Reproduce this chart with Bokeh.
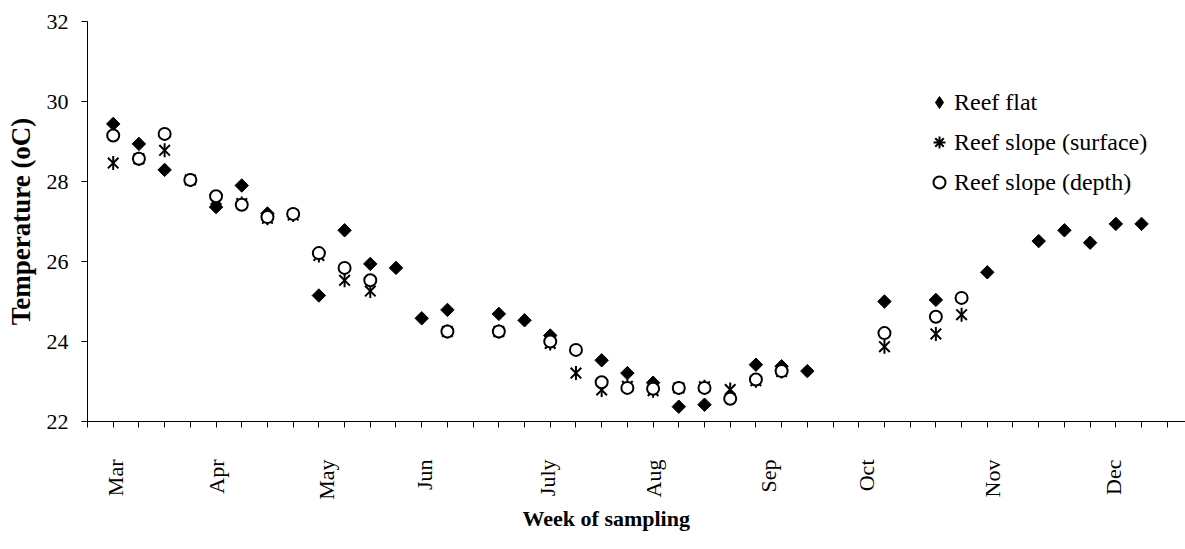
from math import pi
from bokeh.plotting import figure
from bokeh.models import FixedTicker, Legend, LegendItem, Range1d, Title
from bokeh.embed import file_html
from bokeh.resources import INLINE

nan = float("nan")

# week index of each sampling (category position on the x axis)
weeks = list(range(1, 42))

reef_flat = [29.44, 28.94, 28.29, nan, 27.36, 27.90, 27.20, nan, 25.15, 26.78,
             25.94, 25.84, 24.58, 24.79, nan, 24.69, 24.53, 24.15, nan, 23.53,
             23.21, 22.97, 22.37, 22.42, nan, 23.42, 23.38, 23.26, nan, nan,
             25.00, nan, 25.04, nan, 25.73, nan, 26.51, 26.78, 26.47, 26.94,
             26.94]

reef_slope_surface = [28.46, 28.57, 28.78, 28.04, 27.55, 27.45, 27.08, 27.16, 26.15, 25.53,
                      25.26, nan, nan, 24.25, nan, 24.25, nan, 23.95, 23.21, 22.79,
                      22.88, 22.77, 22.84, 22.87, 22.80, 23.02, 23.25, nan, nan, nan,
                      23.87, nan, 24.19, 24.67, nan, nan, nan, nan, nan, nan,
                      nan]

reef_slope_depth = [29.15, 28.57, 29.19, 28.04, 27.63, 27.42, 27.11, 27.19, 26.21, 25.84,
                    25.53, nan, nan, 24.25, nan, 24.25, nan, 24.00, 23.79, 22.98,
                    22.84, 22.82, 22.84, 22.84, 22.57, 23.05, 23.26, nan, nan, nan,
                    24.21, nan, 24.62, 25.09, nan, nan, nan, nan, nan, nan,
                    nan]

month_labels = ["Mar", "Apr", "May", "Jun", "July", "Aug", "Sep", "Oct", "Nov", "Dec"]
month_label_weeks = [1.1, 5.0, 9.3, 13.1, 17.9, 22.0, 26.5, 30.3, 35.2, 39.9]
week_ticks = list(range(0, 43))
y_ticks = [22, 24, 26, 28, 30, 32]

FONT = "Liberation Serif"

p = figure(width=1185, height=540,
           x_range=Range1d(0, 42.71), y_range=Range1d(22, 32),
           output_backend="svg", toolbar_location=None,
           min_border_left=87, min_border_right=0,
           min_border_top=21, min_border_bottom=119)
p.outline_line_color = None
p.grid.visible = False
p.background_fill_color = "white"
p.border_fill_color = "white"

# x axis
xa = p.xaxis[0]
xa.ticker = FixedTicker(ticks=month_label_weeks, minor_ticks=week_ticks)
xa.major_label_overrides = {w: m for w, m in zip(month_label_weeks, month_labels)}
xa.major_label_orientation = pi / 2
xa.major_tick_out = 0
xa.major_tick_in = 0
xa.major_tick_line_color = None
xa.minor_tick_out = 6
xa.minor_tick_in = 0
xa.minor_tick_line_color = "black"
xa.axis_line_color = "black"
xa.major_label_standoff = 32
xa.major_label_text_font = FONT
xa.major_label_text_font_size = "22px"
xa.major_label_text_color = "black"

# y axis
ya = p.yaxis[0]
ya.ticker = FixedTicker(ticks=y_ticks, minor_ticks=[])
ya.major_tick_out = 6
ya.major_tick_in = 0
ya.major_tick_line_color = "black"
ya.minor_tick_line_color = None
ya.axis_line_color = "black"
ya.major_label_standoff = 13
ya.major_label_text_font = FONT
ya.major_label_text_font_size = "22px"
ya.major_label_text_color = "black"
ya.axis_label = "Temperature (oC)"
ya.axis_label_text_font = FONT
ya.axis_label_text_font_size = "27px"
ya.axis_label_text_font_style = "bold"
ya.axis_label_text_color = "black"
ya.axis_label_standoff = 8

p.add_layout(Title(text="Week  of sampling", align="left", offset=435,
                   text_font=FONT, text_font_size="22px", text_font_style="bold",
                   text_color="black", standoff=2), "below")

# data marks (drawn in series order: reef flat, surface, depth)
r_flat = p.scatter(weeks, reef_flat, marker="square", size=9.5, angle=pi / 4,
                   fill_color="black", line_color="black")
r_sx = p.scatter(weeks, reef_slope_surface, marker="x", size=15,
                 line_color="black", line_width=2)
r_sv = p.scatter(weeks, reef_slope_surface, marker="dash", size=14, angle=pi / 2,
                 line_color="black", line_width=2)
r_circ = p.scatter(weeks, reef_slope_depth, marker="circle", size=12,
                   fill_color="white", line_color="black", line_width=2)

# legend-only glyphs (legend markers are drawn unrotated)
lg_flat = p.scatter(weeks, reef_flat, marker="diamond", fill_color="black",
                    line_color="black", visible=False)
lg_surf = p.scatter(weeks, reef_slope_surface, marker="asterisk",
                    line_color="black", line_width=2, visible=False)

legend = Legend(items=[LegendItem(label="Reef flat", renderers=[lg_flat]),
                       LegendItem(label="Reef slope (surface)", renderers=[lg_surf]),
                       LegendItem(label="Reef slope (depth)", renderers=[r_circ])],
                location=(837, 224), border_line_color=None, background_fill_alpha=0,
                padding=0, margin=0, spacing=10, glyph_width=30, glyph_height=30,
                label_height=30, label_standoff=0, click_policy="none",
                label_text_font=FONT, label_text_font_size="24px",
                label_text_color="black")
p.add_layout(legend)

open("out.html", "w").write(file_html(p, INLINE))
